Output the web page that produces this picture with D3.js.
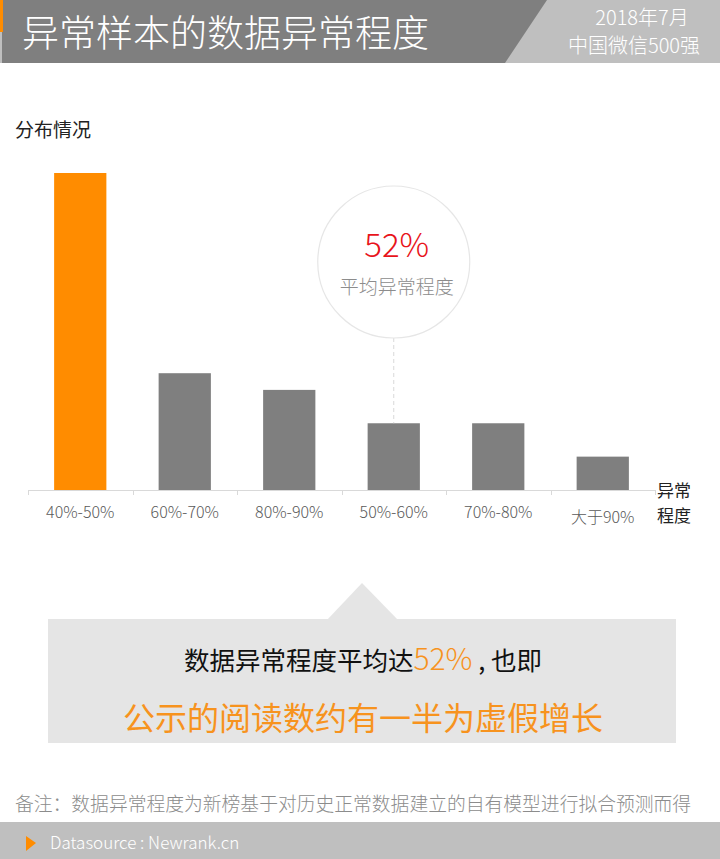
<!DOCTYPE html>
<html>
<head>
<meta charset="utf-8">
<script src="https://cdnjs.cloudflare.com/ajax/libs/d3/7.8.5/d3.min.js"></script>
<style>
	body { margin: 0; background: #fff; }
	svg { display: block; font-family: "Noto Sans CJK SC", "Noto Sans", sans-serif; }
</style>
</head>
<body>
<div id="chart"></div>
<script>
// chart values
var categories = ['40%-50%', '60%-70%', '80%-90%', '50%-60%', '70%-80%', '大于90%'];
var shares = [38, 14, 12, 8, 8, 4];
var highlight = '40%-50%';
var avgLabel = '52%';
var avgIndex = 3;

var chart = (function() {

	var W = 720, H = 859;
	var svg = d3.select('#chart').append('svg')
				.attr('width', W)
				.attr('height', H);

	var drawHeader = function() {
		svg.append('rect').attr('x', 0).attr('y', 0).attr('width', W).attr('height', 63).attr('fill', '#bfbfbf');
		svg.append('path').attr('d', 'M2,0 L547,0 L505,63 L2,63 Z').attr('fill', '#7f7f7f');
		svg.append('rect').attr('x', 0).attr('y', 0).attr('width', 3).attr('height', 32).attr('fill', '#ff8c00');

		svg.append('text').attr('x', 22).attr('y', 47)
			.attr('fill', '#fff').attr('font-size', 37).attr('font-weight', 300)
			.text('异常样本的数据异常程度');

		svg.append('text').attr('x', 642).attr('y', 25).attr('text-anchor', 'middle')
			.attr('fill', '#fff').attr('font-size', 20).attr('font-weight', 300)
			.text('2018年7月');
		svg.append('text').attr('x', 634).attr('y', 53).attr('text-anchor', 'middle')
			.attr('fill', '#fff').attr('font-size', 20).attr('font-weight', 300)
			.text('中国微信500强');
	};

	var drawBars = function() {
		var x = d3.scaleBand().domain(categories).range([28, 655]).paddingInner(0.5).paddingOuter(0.25);
		var y = d3.scaleLinear().domain([0, 38]).range([490, 173]);

		svg.append('text').attr('x', 15).attr('y', 137)
			.attr('fill', '#222').attr('font-size', 19)
			.text('分布情况');

		svg.selectAll('rect.bar')
			.data(shares)
			.enter()
				.append('rect')
				.attr('class', 'bar')
				.attr('x', function(d, i) { return x(categories[i]); })
				.attr('width', x.bandwidth())
				.attr('y', function(d) { return y(d); })
				.attr('height', function(d) { return y(0) - y(d); })
				.attr('fill', function(d, i) { return categories[i] == highlight ? '#ff8c00' : '#7f7f7f'; });

		// axis line and ticks between bands
		svg.append('line').attr('x1', 28).attr('x2', 655).attr('y1', 490.5).attr('y2', 490.5)
			.attr('stroke', '#d9d9d9');
		var edges = categories.map(function(c) { return x(c) - x.bandwidth() / 2; }).concat([655]);
		svg.selectAll('line.tick')
			.data(edges)
			.enter()
				.append('line')
				.attr('class', 'tick')
				.attr('x1', function(d) { return Math.round(d) + 0.5; })
				.attr('x2', function(d) { return Math.round(d) + 0.5; })
				.attr('y1', 490).attr('y2', 495)
				.attr('stroke', '#d9d9d9');

		svg.selectAll('text.cat')
			.data(categories)
			.enter()
				.append('text')
				.attr('class', 'cat')
				.attr('x', function(d) { return x(d) + x.bandwidth() / 2; })
				.attr('y', function(d, i) { return i == 5 ? 523 : 518; })
				.attr('text-anchor', 'middle')
				.attr('fill', '#595959').attr('font-size', 16).attr('font-weight', 300)
				.text(function(d) { return d; });

		var xTitle = svg.append('text').attr('x', 657).attr('y', 497).attr('fill', '#222').attr('font-size', 17);
		xTitle.append('tspan').attr('x', 657).text('异常');
		xTitle.append('tspan').attr('x', 657).attr('dy', 25).text('程度');

		// average bubble
		var cx = x(categories[avgIndex]) + x.bandwidth() / 2;
		var cy = 262, r = 76;
		svg.append('line').attr('x1', cx).attr('x2', cx).attr('y1', cy + r).attr('y2', y(shares[avgIndex]))
			.attr('stroke', '#d9d9d9').attr('stroke-dasharray', '4,3');
		svg.append('circle').attr('cx', cx).attr('cy', cy).attr('r', r)
			.attr('fill', '#fff').attr('stroke', '#e6e6e6').attr('stroke-width', 1.2);
		svg.append('text').attr('x', cx + 3).attr('y', 257).attr('text-anchor', 'middle')
			.attr('fill', '#e8141b').attr('font-size', 33).attr('font-weight', 300)
			.text(avgLabel);
		svg.append('text').attr('x', cx + 3).attr('y', 294).attr('text-anchor', 'middle')
			.attr('fill', '#8c8c8c').attr('font-size', 19).attr('font-weight', 300)
			.text('平均异常程度');
	};

	var drawCallout = function() {
		svg.append('path').attr('d', 'M327,620 L362,583 L398,620 Z').attr('fill', '#e5e5e5');
		svg.append('rect').attr('x', 48).attr('y', 619).attr('width', 628).attr('height', 124).attr('fill', '#e5e5e5');

		var line1 = svg.append('text').attr('x', 363).attr('y', 670).attr('text-anchor', 'middle')
			.attr('font-size', 25.5).attr('fill', '#111');
		line1.append('tspan').text('数据异常程度平均达');
		line1.append('tspan').attr('fill', '#f7931e').attr('font-size', 30).attr('font-weight', 300).text(avgLabel);
		line1.append('tspan').text(' , 也即');

		svg.append('text').attr('x', 363).attr('y', 730).attr('text-anchor', 'middle')
			.attr('font-size', 32).attr('fill', '#f7931e')
			.text('公示的阅读数约有一半为虚假增长');
	};

	var drawFooter = function() {
		svg.append('text').attr('x', 15).attr('y', 811)
			.attr('fill', '#8c8c8c').attr('font-size', 18.8).attr('font-weight', 300)
			.text('备注：数据异常程度为新榜基于对历史正常数据建立的自有模型进行拟合预测而得');

		svg.append('rect').attr('x', 0).attr('y', 822).attr('width', W).attr('height', 37).attr('fill', '#bfbfbf');
		svg.append('path').attr('d', 'M26,836 L36,843 L26,851 Z').attr('fill', '#ff8c00');
		svg.append('text').attr('x', 50).attr('y', 849)
			.attr('fill', '#fff').attr('font-size', 17).attr('font-weight', 300)
			.text('Datasource : Newrank.cn');
	};

	drawHeader();
	drawBars();
	drawCallout();
	drawFooter();

})();
</script>
</body>
</html>
